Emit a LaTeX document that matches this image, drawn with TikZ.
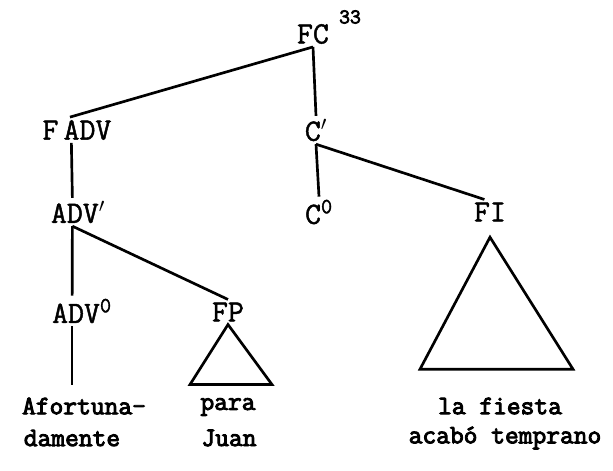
\documentclass[tikz,border=0pt]{standalone}
\usepackage{fontspec}
\newfontfamily\catfont[FakeBold=1.5]{Latin Modern Mono}
\newfontfamily\wordfont[FakeBold=3.5]{Latin Modern Mono}
\usetikzlibrary{positioning}

\begin{document}
\begin{tikzpicture}[
    x=0.025cm, y=-0.025cm,
    cat/.style={font=\fontsize{22}{26}\catfont, inner sep=2pt},
    word/.style={font=\fontsize{19}{22}\wordfont, inner sep=1pt},
    branch/.style={line width=1.9pt},
    tri/.style={line width=1.9pt, line join=miter}
]
    \useasboundingbox (0,0) rectangle (613,470);

    % Categories
    \node[cat] (fc) at (313,34) {FC};
    \node[cat, font=\fontsize{15}{18}\wordfont] (note) at (350,17) {33};
    \node[cat] (fadv) at (77,130) {F\,ADV};
    \node[cat] (cbar) at (316,130) {C$'$};
    \node[cat] (advbar) at (78,212) {ADV$'$};
    \node[cat] (czero) at (319,212) {C\textsuperscript{0}};
    \node[cat] (fi) at (490,212) {FI};
    \node[cat] (advzero) at (82,311) {ADV\textsuperscript{0}};
    \node[cat] (fp) at (228,312) {FP};

    % Words
    \node[word] (afort) at (84,406) {Afortuna-};
    \node[word] (dam) at (72,438) {damente};
    \node[word] (para) at (228,407) {para};
    \node[word] (juan) at (229,438) {Juan};
    \node[word] (fiesta) at (500,406) {la fiesta};
    \node[word] (acabo) at (505,438) {acabó temprano};

    % Branches
    \draw[branch] (fc.south) -- ([xshift=-5pt]fadv.north);
    \draw[branch] (fc.south) -- (cbar.north);
    \draw[branch] ([xshift=-4pt]fadv.south) -- ([xshift=-4pt]advbar.north);
    \draw[branch] ([xshift=-4pt]advbar.south) -- ([xshift=-7pt]advzero.north);
    \draw[branch] ([xshift=-4pt]advbar.south) -- (fp.north);
    \draw[branch] ([xshift=-7pt]advzero.south) -- ([xshift=-7pt,yshift=8pt]afort.north -| advzero.south);
    \draw[branch] (cbar.south) -- (czero.north);
    \draw[branch] (cbar.south) -- ([xshift=-4pt]fi.north);

    % Triangles
    \draw[tri] (fp.south) -- ++(-38,60) -- ++(82,0) -- cycle;
    \draw[tri] ([yshift=-9pt]fi.south) -- ++(-70,132) -- ++(153,0) -- cycle;
\end{tikzpicture}
\end{document}
